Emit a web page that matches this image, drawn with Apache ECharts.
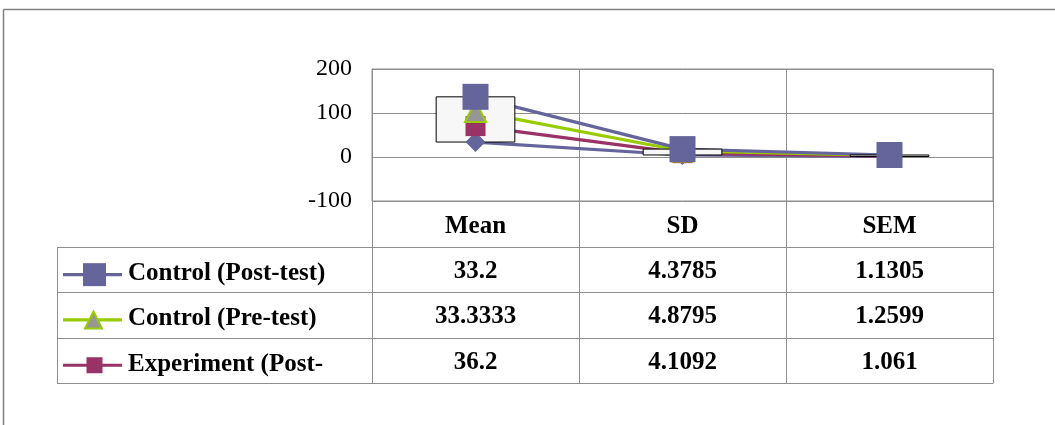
<!DOCTYPE html>
<html>
<head>
<meta charset="utf-8">
<script src="https://cdn.jsdelivr.net/npm/echarts@6/dist/echarts.min.js"></script>
<style>
  html, body { margin: 0; padding: 0; background: #fff; }
  #chart { width: 1055px; height: 425px; }
</style>
</head>
<body>
<div id="chart"></div>
<script>
// Statistic columns of the chart
const categories = ['Mean', 'SD', 'SEM'];

// Group values (stacked from the bottom series upward)
const experimentPre  = [34, 4.6, 1.1];
const experimentPost = [36.2, 4.1092, 1.061];
const controlPre     = [33.3333, 4.8795, 1.2599];
const controlPost    = [33.2, 4.3785, 1.1305];

// Value axis ticks
const yMin = -100, yMax = 200, yStep = 100;

// Rows of the data table under the plot
const tableLabels = ['Control (Post-test)', 'Control (Pre-test)', 'Experiment (Post-'];
const tableValues = [controlPost, controlPre, experimentPost];

const GRID = '#8e8e8e';
const SERIF = '"Liberation Serif", "Times New Roman", serif';
const PURPLE = '#65659b', GREEN = '#99cc00', MAROON = '#993366', GREYFILL = '#969696';

// Running totals of the stacked lines
function addArr(a, b) { return a.map((v, i) => v + b[i]); }
const s1 = experimentPre;
const s2 = addArr(s1, experimentPost);
const s3 = addArr(s2, controlPre);
const s4 = addArr(s3, controlPost);

const chart = echarts.init(document.getElementById('chart'), null, { renderer: 'canvas' });

function lineSeries(name, data, color, z) {
  return {
    name, type: 'line', data, z,
    symbol: 'none', silent: true,
    lineStyle: { color, width: 3.2 },
    animation: false
  };
}
function markerSeries(name, data, symbol, size, color, border) {
  return {
    name: name + ' markers', type: 'scatter', data, symbol, symbolSize: size, z: 6,
    itemStyle: { color, borderColor: border || color, borderWidth: border ? 2 : 0, opacity: 1 },
    animation: false, silent: true
  };
}

chart.setOption({
  animation: false,
  grid: { left: 372, right: 62, top: 69, bottom: 224, show: true, borderColor: GRID, borderWidth: 1 },
  xAxis: {
    type: 'category', data: categories, boundaryGap: true,
    axisLine: { lineStyle: { color: GRID, width: 1 } },
    axisTick: { show: false },
    splitLine: { show: true, lineStyle: { color: GRID, width: 1 } },
    axisLabel: { color: '#000', fontFamily: SERIF, fontWeight: 'bold', fontSize: 25, margin: 13 }
  },
  yAxis: {
    type: 'value', min: yMin, max: yMax, interval: yStep,
    axisLine: { show: true, lineStyle: { color: GRID } },
    axisTick: { show: false },
    splitLine: { lineStyle: { color: GRID, width: 1 } },
    axisLabel: { color: '#000', fontFamily: SERIF, fontSize: 24, margin: 20 }
  },
  series: [
    lineSeries('Experiment (Pre-test)', s1, PURPLE, 2),
    lineSeries('Experiment (Post-test)', s2, MAROON, 2),
    lineSeries('Control (Pre-test)', s3, GREEN, 2),
    lineSeries('Control (Post-test)', s4, PURPLE, 2),
    {
      // up/down bars between the lowest and the top line
      name: 'updown', type: 'custom', z: 4, silent: true,
      data: categories.map((c, i) => [i, s1[i], s4[i]]),
      encode: { x: 0, y: [1, 2] },
      renderItem(params, api) {
        const a = api.coord([api.value(0), api.value(1)]);
        const b = api.coord([api.value(0), api.value(2)]);
        const w = api.size([1, 0])[0] * 0.38;
        return {
          type: 'rect',
          shape: { x: a[0] - w / 2, y: Math.min(a[1], b[1]), width: w, height: Math.abs(a[1] - b[1]) },
          style: { fill: '#f7f7f7', stroke: '#000', lineWidth: 1 }
        };
      }
    },
    markerSeries('Experiment (Pre-test)', s1, 'diamond', 20, PURPLE),
    markerSeries('Experiment (Post-test)', s2, 'rect', 20, MAROON),
    markerSeries('Control (Pre-test)', s3, 'triangle', 21, GREYFILL, GREEN),
    markerSeries('Control (Post-test)', s4, 'rect', 26, PURPLE)
  ]
});

// Data table and outer frame
const rowTop = 247, rowH = 45.3, tableLeft = 57;
const colX = categories.map((c, i) => chart.convertToPixel({ xAxisIndex: 0 }, i));
const colW = colX[1] - colX[0];
const bounds = [colX[0] - colW / 2].concat(colX.map(x => x + colW / 2));
const tableBottom = Math.round(rowTop + tableLabels.length * rowH) + 0.5;
const plotBottom = chart.convertToPixel({ yAxisIndex: 0 }, yMin);
const g = [];
g.push({ type: 'line', shape: { x1: 3.5, y1: 9.5, x2: 1055, y2: 9.5 }, style: { stroke: '#808080', lineWidth: 1.5 } });
g.push({ type: 'line', shape: { x1: 3.5, y1: 9.5, x2: 3.5, y2: 425 }, style: { stroke: '#808080', lineWidth: 1.5 } });
for (let r = 0; r <= tableLabels.length; r++) {
  const y = Math.round(rowTop + r * rowH) + 0.5;
  g.push({ type: 'line', shape: { x1: tableLeft, y1: y, x2: bounds[bounds.length - 1], y2: y }, style: { stroke: GRID, lineWidth: 1 } });
}
g.push({ type: 'line', shape: { x1: tableLeft + 0.5, y1: rowTop + 0.5, x2: tableLeft + 0.5, y2: tableBottom }, style: { stroke: GRID, lineWidth: 1 } });
bounds.forEach(x => {
  const xx = Math.round(x) + 0.5;
  g.push({ type: 'line', shape: { x1: xx, y1: plotBottom, x2: xx, y2: tableBottom }, style: { stroke: GRID, lineWidth: 1 } });
});

const keys = [
  { color: PURPLE, sym: 'rect', size: 23 },
  { color: GREEN, sym: 'tri', size: 17, fill: GREYFILL },
  { color: MAROON, sym: 'rect', size: 16 }
];
tableLabels.forEach((label, r) => {
  const cy = rowTop + r * rowH + rowH / 2 + 4;
  const k = keys[r];
  const ky = cy + 1;
  g.push({ type: 'line', shape: { x1: 63, y1: ky, x2: 122, y2: ky }, style: { stroke: k.color, lineWidth: 3.2 }, z: 10 });
  if (k.sym === 'rect') {
    g.push({ type: 'rect', shape: { x: 94.5 - k.size / 2, y: ky - k.size / 2, width: k.size, height: k.size }, style: { fill: k.color }, z: 11 });
  } else {
    const h = k.size;
    g.push({ type: 'polygon', shape: { points: [[93.5, ky - h / 2], [93.5 + h / 2, ky + h / 2], [93.5 - h / 2, ky + h / 2]] }, style: { fill: k.fill, stroke: k.color, lineWidth: 2 }, z: 11 });
  }
  g.push({ type: 'text', x: 128, y: cy, style: { text: label, font: 'bold 25px ' + SERIF, fill: '#000', verticalAlign: 'middle', align: 'left' }, z: 11 });
  tableValues[r].forEach((v, c) => {
    g.push({ type: 'text', x: colX[c], y: cy - 2, style: { text: String(v), font: 'bold 25px ' + SERIF, fill: '#000', verticalAlign: 'middle', align: 'center' }, z: 11 });
  });
});
chart.setOption({ graphic: g });
</script>
</body>
</html>
